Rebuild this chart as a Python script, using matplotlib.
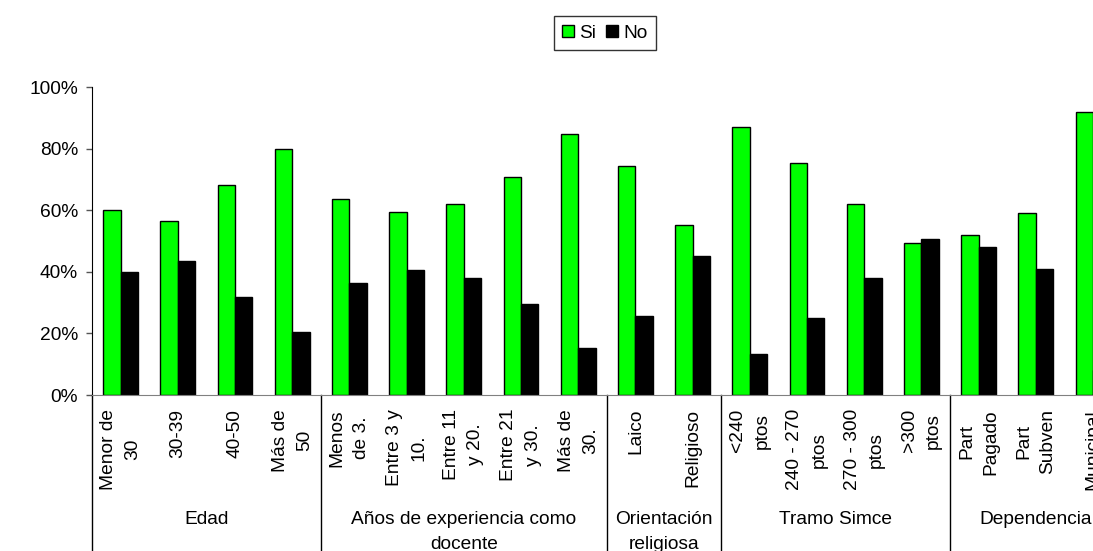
import matplotlib
matplotlib.use("Agg")
from matplotlib import pyplot as plt
from matplotlib.patches import Patch
import matplotlib.transforms as mtransforms
import numpy as np

plt.rcParams['font.family'] = ['Liberation Sans', 'DejaVu Sans']

# categories and values
categorias = ["Menor de\n30", "30-39", "40-50", "Más de\n50",
              "Menos\nde 3.", "Entre 3 y\n10.", "Entre 11\ny 20.", "Entre 21\ny 30.", "Más de\n30.",
              "Laico", "Religioso",
              "<240\nptos", "240 - 270\nptos", "270 - 300\nptos", ">300\nptos",
              "Part\nPagado", "Part\nSubven", "Municipal"]
si = [60.1, 56.6, 68.2, 79.9,
      63.6, 59.5, 62.0, 70.7, 84.8,
      74.2, 55.1,
      86.9, 75.2, 62.1, 49.5,
      52.0, 59.1, 91.9]
no = [40.0, 43.6, 31.9, 20.3,
      36.5, 40.5, 38.0, 29.4, 15.3,
      25.8, 45.0,
      13.3, 24.9, 38.0, 50.6,
      48.0, 41.0, 8.2]
grupos = ["Edad", "Años de experiencia como\ndocente", "Orientación\nreligiosa", "Tramo Simce", "Dependencia"]
tam_grupos = [4, 5, 2, 4, 3]

W, H = 1093, 551
fs = 13.8
fig = plt.figure(figsize=(W/100, H/100), dpi=100)
# plot area runs past the right edge like in the original
ax = fig.add_axes([92/W, 1-395/H, (1121.6-92)/W, 308/H])

x = np.arange(len(categorias))
w = 0.305
ax.bar(x - w/2, si, w, color='#00ff00', edgecolor='black', linewidth=1.0, label='Si')
ax.bar(x + w/2, no, w, color='black', edgecolor='black', linewidth=1.0, label='No')

ax.set_xlim(-0.5, len(categorias)-0.5)
ax.set_ylim(0, 100)
ax.set_yticks(range(0, 101, 20))
ax.set_yticklabels([f"{v}%" for v in range(0, 101, 20)], fontsize=fs)
ax.tick_params(axis='y', direction='out', length=4, width=1, color='#555555', pad=6)

ax.set_xticks(x)
ax.set_xticklabels(categorias, rotation=90, fontsize=fs, va='top', ha='center',
                   multialignment='center', linespacing=1.55)
ax.tick_params(axis='x', length=0, pad=10)

ax.spines['top'].set_visible(False)
ax.spines['right'].set_visible(False)
ax.spines['bottom'].set_color('#808080')
ax.spines['left'].set_color('black')

trans = mtransforms.blended_transform_factory(ax.transData, ax.transAxes)
inicio = -0.5
ax.plot([inicio, inicio], [0, -0.52], color='black', lw=1, transform=trans, clip_on=False)
for g, n in zip(grupos, tam_grupos):
    fin = inicio + n
    ax.plot([fin, fin], [0, -0.52], color='black', lw=1, transform=trans, clip_on=False)
    ax.text((inicio + fin)/2, -0.378, g, transform=trans, ha='center', va='top',
            fontsize=fs, linespacing=1.55, clip_on=False)
    inicio = fin

fig.legend(handles=[Patch(facecolor='#00ff00', edgecolor='black', label='Si'),
                    Patch(facecolor='black', edgecolor='black', label='No')],
           loc='center', bbox_to_anchor=(605/W, 1-33/H), ncol=2, fontsize=fs,
           frameon=True, fancybox=False, edgecolor='black', handlelength=0.6,
           handleheight=0.6, handletextpad=0.3, columnspacing=0.5, borderpad=0.45,
           borderaxespad=0)

fig.savefig("out.png", dpi=100)
